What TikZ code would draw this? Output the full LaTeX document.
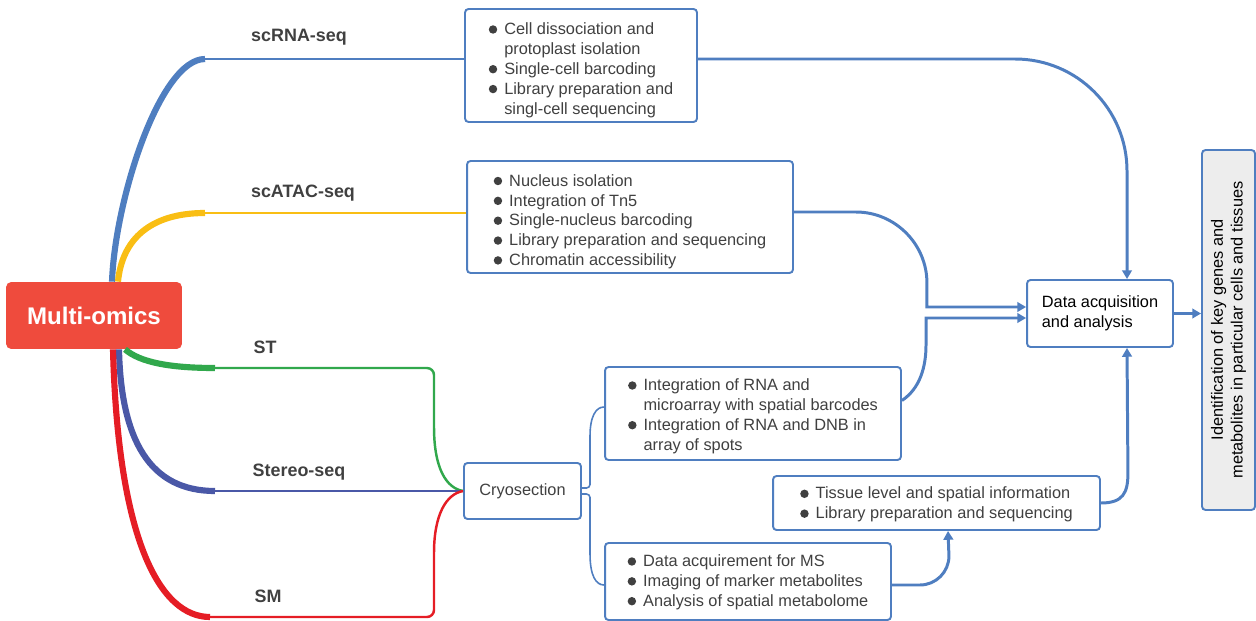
\documentclass[tikz,border=0pt]{standalone}
\usepackage{fontspec}
\setmainfont{Liberation Sans}
\usepackage{xcolor}
\usetikzlibrary{calc}
\usetikzlibrary{arrows.meta}

\definecolor{lineblue}{HTML}{4F7EC0}
\definecolor{omicsred}{HTML}{EF4B3D}
\definecolor{atacyellow}{HTML}{F9BE14}
\definecolor{stgreen}{HTML}{31A84C}
\definecolor{stereoblue}{HTML}{4A58A7}
\definecolor{smred}{HTML}{E51D25}
\definecolor{txtgray}{HTML}{404040}
\definecolor{identgray}{HTML}{EDEDED}

\newcommand{\boxfont}{\fontsize{9.3pt}{11.3pt}\selectfont}
\newcommand{\bul}{\tikz[baseline=-0.6ex]\fill[txtgray] (0,0) circle (2.4pt);}
\newcommand{\steps}[2][0pt]{\raisebox{-#1}[\height][\depth]{\begin{tabular}{@{}l@{\hspace{4pt}}l@{}}#2\end{tabular}}}

\tikzset{
    stepbox/.style={draw=lineblue, line width=1.1pt, rounded corners=2pt, fill=white, text=txtgray, font=\boxfont, inner sep=0pt},
    omicsbox/.style={fill=omicsred, rounded corners=3pt, text=white, font=\fontsize{13.7pt}{16pt}\selectfont\bfseries, minimum width=3.52cm, minimum height=1.34cm},
    branchlabel/.style={text=txtgray, font=\fontsize{10.2pt}{12pt}\selectfont\bfseries},
    flow/.style={draw=lineblue, line width=1.7pt, -{Triangle[length=5pt,width=5.5pt]}},
    bracket/.style={draw=lineblue, line width=0.9pt, rounded corners=2pt},
    limb/.style={line width=3.5pt},
    twig/.style={line width=1.4pt},
}

\begin{document}
\begin{tikzpicture}[x=0.02cm, y=-0.02cm]
    \useasboundingbox (0,0) rectangle (1256,621);

    \node[omicsbox] (omics) at (94,315.5) {Multi-omics};

    \node[stepbox, minimum width=4.64cm, minimum height=2.26cm] (rna) at (581,65.5)
        {\steps[2.8pt]{\bul & Cell dissociation and\\ & protoplast isolation\\ \bul & Single-cell barcoding\\ \bul & Library preparation and\\ & singl-cell sequencing}};
    \node[stepbox, minimum width=6.52cm, minimum height=2.24cm] (atac) at (630,217)
        {\steps[2.8pt]{\bul & Nucleus isolation\\ \bul & Integration of Tn5\\ \bul & Single-nucleus barcoding\\ \bul & Library preparation and sequencing\\ \bul & Chromatin accessibility}};
    \node[stepbox, minimum width=2.34cm, minimum height=1.12cm] (cryo) at (522.5,491) {Cryosection};
    \node[stepbox, minimum width=5.92cm, minimum height=1.86cm] (spat) at (753,413.5)
        {\steps[1.7pt]{\bul & Integration of RNA and\\ & microarray with spatial barcodes\\ \bul & Integration of RNA and DNB in\\ & array of spots}};
    \node[stepbox, minimum width=6.54cm, minimum height=1.08cm] (tiss) at (936.5,503)
        {\steps[1.1pt]{\bul & Tissue level and spatial information\\ \bul & Library preparation and sequencing}};
    \node[stepbox, minimum width=5.72cm, minimum height=1.54cm] (msi) at (748,581.5)
        {\steps[0.6pt]{\bul & Data acquirement for MS\\ \bul & Imaging of marker metabolites\\ \bul & Analysis of spatial metabolome}};
    \node[stepbox, text=black, align=left, minimum width=2.92cm, minimum height=1.34cm] (data) at (1100,313.5)
        {Data acquisition\\and analysis};
    \node[stepbox, fill=identgray, text=black, align=center, rotate=90, minimum width=7.2cm, minimum height=1.06cm] (ident) at (1228.5,330)
        {Identification of key genes and\\metabolites in particular cells and tissues};

    \node[branchlabel] (rnalabel) at (299,37) {scRNA-seq};
    \node[branchlabel] (ataclabel) at (303,193) {scATAC-seq};
    \node[branchlabel] (stlabel) at (265,347) {ST};
    \node[branchlabel] (stereolabel) at (299,472) {Stereo-seq};
    \node[branchlabel] (smlabel) at (268,596) {SM};

    % knees of the branches
    \coordinate (rnaknee) at (205,59);
    \coordinate (atacknee) at (205,213);
    \coordinate (stknee) at (215,368);
    \coordinate (stereoknee) at (215,491);
    \coordinate (smknee) at (210,617);

    % branches out of Multi-omics
    \draw[lineblue, limb] ($(omics.north)+(18,0)$) .. controls +(3,-82) and +(-45,0) .. (rnaknee);
    \draw[lineblue, twig] (rnaknee) -- ($(rna.west)+(0,-6.5)$);
    \draw[atacyellow, limb] ($(omics.north)+(24,0)$) .. controls +(4,-42) and +(-55,0) .. (atacknee);
    \draw[atacyellow, twig] (atacknee) -- ($(atac.west)+(0,-4)$);
    \draw[stgreen, limb] ($(omics.south)+(31,0)$) .. controls +(15,13) and +(-45,0) .. (stknee);
    \draw[stgreen, twig, rounded corners=4pt] (stknee) -- (434,368) -- (434,420) .. controls (434,468) and (446,488) .. (cryo.west);
    \draw[stereoblue, limb] ($(omics.south)+(25,0)$) .. controls +(2,91) and +(-65,0) .. (stereoknee);
    \draw[stereoblue, twig] (stereoknee) -- (cryo.west);
    \draw[smred, limb] ($(omics.south)+(19,0)$) .. controls +(5,191) and +(-50,0) .. (smknee);
    \draw[smred, twig, rounded corners=4pt] (smknee) -- (434,617) -- (434,560) .. controls (434,515) and (446,494) .. (cryo.west);

    % Cryosection to the two methods
    \draw[bracket] ($(cryo.east)+(0,-3)$) -| (590,440) .. controls (590,416) and (596,407) .. ($(spat.west)+(0,-6.5)$);
    \draw[bracket] ($(cryo.east)+(0,3)$) -| (590,550) .. controls (590,576) and (596,585) .. ($(msi.west)+(0,3.5)$);

    % into data acquisition
    \coordinate (datain1) at ($(data.west)+(0,-6.5)$);
    \coordinate (datain2) at ($(data.west)+(0,4.5)$);
    \coordinate (datatop) at ($(data.north)+(27,0)$);
    \coordinate (datafoot) at ($(data.south)+(27,0)$);

    \draw[flow, rounded corners=2.24cm] ($(rna.east)+(0,-6.5)$) -| (datatop);
    \draw[flow] ($(atac.east)+(0,-5)$) -- ++(62,0) .. controls +(39,0) and +(0,-39) .. ++(71,71) |- (datain1);
    \draw[flow] ($(spat.east)+(0,-13)$) .. controls +(18,-12) and +(0,22) .. (926,345) |- (datain2);
    \draw[flow] (tiss.east) .. controls +(22,0) and +(0,20) .. ++(27,-30) -- (datafoot);
    \draw[flow] ($(msi.east)+(0,3.5)$) -- ++(28,0) .. controls +(16,0) and +(0,16) .. ++(29,-29) -- ($(tiss.south)+(11.5,0)$);
    \draw[flow] (data.east) -- (data.east -| ident.north);
\end{tikzpicture}
\end{document}
